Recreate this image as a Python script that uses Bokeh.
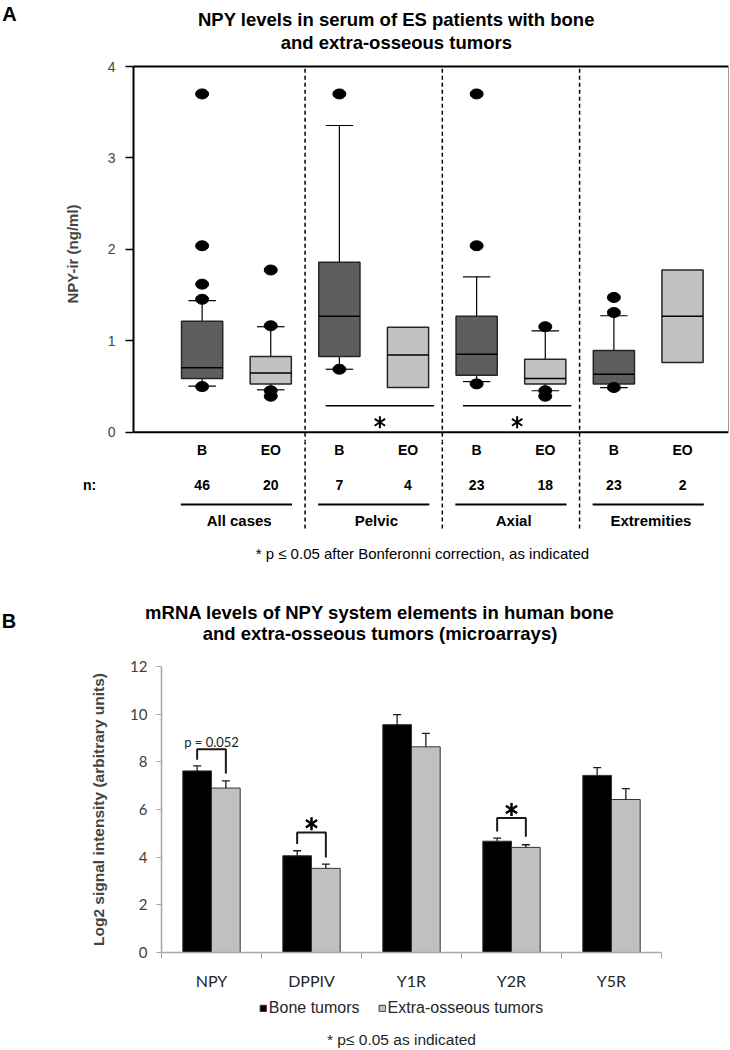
import math
from bokeh.plotting import figure
from bokeh.models import (ColumnDataSource, LinearAxis, FixedTicker, Legend, LegendItem,
                          Range1d, Span)
from bokeh.embed import file_html
from bokeh.resources import INLINE
from bokeh.core.properties import value

NaN = float("nan")

# ---------------- Panel A data (serum NPY, box plots) ----------------
panel_a_title = ["NPY levels in serum of ES patients with bone", "and extra-osseous tumors"]
group_names = ["All cases", "Pelvic", "Axial", "Extremities"]
tumor_labels = ["B", "EO", "B", "EO", "B", "EO", "B", "EO"]
n_counts = [46, 20, 7, 4, 23, 18, 23, 2]
box_q1 = [0.59, 0.53, 0.83, 0.49, 0.625, 0.53, 0.53, 0.765]
box_median = [0.705, 0.65, 1.27, 0.845, 0.855, 0.59, 0.635, 1.27]
box_q3 = [1.215, 0.83, 1.86, 1.15, 1.27, 0.80, 0.895, 1.775]
whisker_low = [0.505, 0.465, 0.69, NaN, 0.555, 0.455, 0.49, NaN]
whisker_high = [1.44, 1.155, 3.355, NaN, 1.70, 1.11, 1.275, NaN]
outlier_box = [0, 0, 0, 0, 0, 1, 1, 1, 1, 2, 2, 4, 4, 4, 5, 5, 5, 6, 6, 6]
outlier_value = [3.70, 2.04, 1.62, 1.455, 0.50, 1.775, 1.165, 0.455, 0.395,
                 3.70, 0.69, 3.70, 2.04, 0.53, 1.155, 0.455, 0.395, 1.475, 1.31, 0.49]
significant_groups_a = [1, 2]  # Pelvic, Axial
y_ticks_a = [0, 1, 2, 3, 4]
footnote_a = "* p \u2264 0.05 after Bonferonni correction, as indicated"

# ---------------- Panel B data (microarray bars) ----------------
panel_b_title = ["mRNA levels of NPY system elements in human bone",
                 "and extra-osseous tumors (microarrays)"]
genes = ["NPY", "DPPIV", "Y1R", "Y2R", "Y5R"]
bone_mean = [7.62, 4.06, 9.56, 4.67, 7.43]
bone_err = [0.21, 0.21, 0.42, 0.13, 0.33]
eo_mean = [6.90, 3.53, 8.63, 4.41, 6.42]
eo_err = [0.30, 0.18, 0.56, 0.11, 0.46]
bracket_gene = [0, 1, 3]
bracket_top = [8.53, 5.04, 5.64]
bracket_left_end = [8.09, 4.55, 5.08]
bracket_right_end = [7.51, 3.99, 4.86]
bracket_text = ["p = 0.052", "*", "*"]
y_ticks_b = [0, 2, 4, 6, 8, 10, 12]
legend_labels = ["Bone tumors", "Extra-osseous tumors"]
footnote_b = "* p\u2264 0.05 as indicated"

SANS = "Liberation Sans"
W = 730
BONE_FILL_A, EO_FILL_A = "#5e5e5e", "#c2c2c2"
BONE_FILL_B, EO_FILL_B = "black", "#c0c0c0"

# panel A main frame spans page x 133..728 ; panel B main frame spans page x 161..661
A_X0, A_X1 = 0.0, 8.67
A_PX = (728 - 133) / (A_X1 - A_X0)
A_STRIP = Range1d(A_X0 - 133 / A_PX, A_X1 + (W - 728) / A_PX)
B_X0, B_X1 = 0.0, 5.0
B_PX = (661 - 161) / (B_X1 - B_X0)
B_STRIP = Range1d(B_X0 - 161 / B_PX, B_X1 + (W - 661) / B_PX)


def strip(height, x_range, top, bottom, left_border=0):
    """A figure without axes whose frame fills it; y is measured in page pixels."""
    p = figure(width=W, height=height, x_range=x_range, y_range=Range1d(bottom, top),
               output_backend="svg", toolbar_location=None, x_axis_type=None,
               y_axis_type=None, min_border_left=left_border, min_border_right=0,
               min_border_top=0, min_border_bottom=0)
    p.outline_line_color = None
    p.grid.visible = False
    p.background_fill_color = "white"
    p.border_fill_color = "white"
    return p


def add_text(p, x, y, texts, size, bold=False, font=SANS, color="black", align="center"):
    p.text(x=x, y=y, text=texts, text_font=value(font), text_font_size=f"{size}px",
           text_font_style="bold" if bold else "normal", text_color=color,
           text_align=align, text_baseline="middle")


def add_star(p, x, y, size, width):
    for ang in (0, math.pi):
        p.scatter(x=x, y=y, marker="y", size=size, angle=ang,
                  line_color="black", line_width=width)


pos = [i + 1.0 for i in range(len(tumor_labels))]
pair_center = [(pos[2 * g] + pos[2 * g + 1]) / 2 for g in range(len(group_names))]
separators = [(pos[2 * g - 1] + pos[2 * g]) / 2 for g in range(1, len(group_names))]

# ======================= PANEL A : header (page y 0..56) =======================
a_head = strip(56, A_STRIP, 0, 56)
add_text(a_head, [3.83, 3.83], [19, 42], panel_a_title, 18.5, bold=True)
add_text(a_head, [A_STRIP.start + 9 / A_PX], [13], ["A"], 20, bold=True)

# ======================= PANEL A : box plots (page y 56..441) =======================
pA = figure(width=W, height=385, x_range=Range1d(A_X0, A_X1), y_range=Range1d(-0.1, 4),
            output_backend="svg", toolbar_location=None,
            min_border_left=133, min_border_right=2, min_border_top=10, min_border_bottom=0,
            x_axis_type=None, y_axis_type=None)
pA.outline_line_color = None
pA.background_fill_color = "white"
pA.border_fill_color = "white"

fills = [BONE_FILL_A if t == "B" else EO_FILL_A for t in tumor_labels]
srcA = ColumnDataSource(dict(
    x=pos, left=[x - 0.3 for x in pos], right=[x + 0.3 for x in pos],
    cl=[x - 0.2 for x in pos], cr=[x + 0.2 for x in pos],
    q1=box_q1, q3=box_q3, med=box_median, wlo=whisker_low, whi=whisker_high, fill=fills))

pA.segment(x0=separators, y0=[-0.2] * 3, x1=separators, y1=[4] * 3,
           line_color="black", line_width=1.5, line_dash="4 3")
pA.segment(x0="x", y0="q3", x1="x", y1="whi", source=srcA, line_color="black", line_width=1.2)
pA.segment(x0="x", y0="q1", x1="x", y1="wlo", source=srcA, line_color="black", line_width=1.2)
pA.segment(x0="cl", y0="whi", x1="cr", y1="whi", source=srcA, line_color="black", line_width=1.2)
pA.segment(x0="cl", y0="wlo", x1="cr", y1="wlo", source=srcA, line_color="black", line_width=1.2)
pA.quad(left="left", right="right", bottom="q1", top="q3", source=srcA,
        fill_color="fill", line_color="#262626", line_width=1.5)
pA.segment(x0="left", y0="med", x1="right", y1="med", source=srcA, line_color="black", line_width=1.5)

ox = [pos[i] for i in outlier_box]
pA.ellipse(x=ox, y=outlier_value, width=13, height=10, width_units="screen",
           height_units="screen", fill_color="black", line_color="black")

sig_x0, sig_x1, sig_sx = [], [], []
for g in significant_groups_a:
    b, e = pos[2 * g], pos[2 * g + 1]
    sig_x0.append(b - 0.2)
    sig_x1.append(e + 0.38)
    sig_sx.append((b + e) / 2 + 0.09)
pA.segment(x0=sig_x0, y0=[0.29] * len(sig_x0), x1=sig_x1, y1=[0.29] * len(sig_x0),
           line_color="black", line_width=1.5)
add_star(pA, sig_sx, [0.11] * len(sig_sx), 12, 2)

# x axis baseline at y = 0
pA.add_layout(Span(location=0, dimension="width", line_color="black", line_width=2))

ax_left = LinearAxis(ticker=FixedTicker(ticks=y_ticks_a), bounds=(0, 4), axis_line_width=2,
                     major_tick_out=8, major_tick_in=0, major_tick_line_width=1.5,
                     minor_tick_out=0, minor_tick_in=0,
                     major_label_text_font=SANS, major_label_text_font_size="14px",
                     major_label_standoff=10,
                     axis_label="NPY-ir (ng/ml)", axis_label_text_font=SANS,
                     axis_label_text_font_size="15px", axis_label_text_font_style="bold",
                     axis_label_standoff=24)
pA.add_layout(ax_left, "left")
ax_above = LinearAxis(ticker=FixedTicker(ticks=[]), axis_line_width=2,
                      major_tick_out=0, major_tick_in=0, minor_tick_out=0, minor_tick_in=0,
                      major_label_standoff=0)
pA.add_layout(ax_above, "above")
ax_right = LinearAxis(ticker=FixedTicker(ticks=[]), bounds=(0, 4), axis_line_width=1,
                      axis_line_color="#9a9a9a", major_tick_out=0, major_tick_in=0,
                      minor_tick_out=0, minor_tick_in=0, major_label_standoff=0)
pA.add_layout(ax_right, "right")

# ======================= PANEL A : rows below the axis (page y 441..598) ==============
a_foot = strip(157, A_STRIP, 441, 598)
a_foot.segment(x0=separators, y0=[440] * 3, x1=separators, y1=[530] * 3,
               line_color="black", line_width=1.5, line_dash="4 3")
add_text(a_foot, pos, [449] * len(pos), tumor_labels, 14, bold=True)
add_text(a_foot, [A_STRIP.start + 89 / A_PX], [484], ["n:"], 14, bold=True)
add_text(a_foot, pos, [484] * len(pos), [str(n) for n in n_counts], 14, bold=True)
a_foot.segment(x0=[c - 0.81 for c in pair_center], y0=[504] * 4,
               x1=[c + 0.81 for c in pair_center], y1=[504] * 4,
               line_color="black", line_width=1.8)
add_text(a_foot, [c + 0.04 for c in pair_center], [520] * 4, group_names, 15, bold=True)
add_text(a_foot, [4.21], [553], [footnote_a], 15)

# ======================= PANEL B : header (page y 598..655) =======================
b_head = strip(57, B_STRIP, 598, 655)
add_text(b_head, [2.185, 2.185], [611.7, 633.3], panel_b_title, 18.5, bold=True)
add_text(b_head, [B_STRIP.start + 8.5 / B_PX], [620], ["B"], 20, bold=True)

# ======================= PANEL B : bars (page y 655..992) =======================
pB = figure(width=W, height=337, x_range=Range1d(B_X0, B_X1), y_range=Range1d(0, 12),
            output_backend="svg", toolbar_location=None,
            min_border_left=161, min_border_right=69, min_border_top=11, min_border_bottom=40,
            x_axis_type=None, y_axis_type=None)
pB.outline_line_color = None
pB.background_fill_color = "white"
pB.border_fill_color = "white"

centers = [i + 0.5 for i in range(len(genes))]
bar_w = 0.287
bone_x = [c - bar_w / 2 for c in centers]
eo_x = [c + bar_w / 2 for c in centers]

pB.vbar(x=bone_x, top=bone_mean, bottom=0, width=bar_w,
        fill_color=BONE_FILL_B, line_color="#333333", line_width=1)
pB.vbar(x=eo_x, top=eo_mean, bottom=0, width=bar_w,
        fill_color=EO_FILL_B, line_color="#333333", line_width=1)

ex = bone_x + eo_x
ey0 = bone_mean + eo_mean
ey1 = [m + e for m, e in zip(bone_mean, bone_err)] + [m + e for m, e in zip(eo_mean, eo_err)]
pB.segment(x0=ex, y0=ey0, x1=ex, y1=ey1, line_color="#1a1a1a", line_width=1.3)
pB.segment(x0=[x - 0.04 for x in ex], y0=ey1, x1=[x + 0.04 for x in ex], y1=ey1,
           line_color="#1a1a1a", line_width=1.3)

bxs, bys = [], []
star_x, star_y, txt_x, txt_y, txt = [], [], [], [], []
for gi, top, le, re_, t in zip(bracket_gene, bracket_top, bracket_left_end,
                               bracket_right_end, bracket_text):
    xl, xr = bone_x[gi], eo_x[gi]
    bxs.append([xl, xl, xr, xr])
    bys.append([le, top, top, re_])
    if t == "*":
        star_x.append(centers[gi])
        star_y.append(top + 0.36)
    else:
        txt_x.append(centers[gi])
        txt_y.append(top + 0.32)
        txt.append(t)
pB.multi_line(xs=bxs, ys=bys, line_color="#1a1a1a", line_width=2)
add_star(pB, star_x, star_y, 13, 2.5)
add_text(pB, txt_x, txt_y, txt, 13, font="Lato", color="#222222")

ax_bl = LinearAxis(ticker=FixedTicker(ticks=y_ticks_b), axis_line_color="#a6a6a6",
                   axis_line_width=1.5, major_tick_line_color="#a6a6a6", major_tick_out=5,
                   major_tick_in=0, minor_tick_out=0, minor_tick_in=0,
                   major_label_text_font="Lato", major_label_text_font_size="15px",
                   major_label_text_color="#404040", major_label_standoff=9,
                   axis_label="Log2 signal intensity (arbitrary units)",
                   axis_label_text_font=SANS, axis_label_text_font_size="15.5px",
                   axis_label_text_font_style="bold", axis_label_standoff=20)
pB.add_layout(ax_bl, "left")
ax_bb = LinearAxis(ticker=FixedTicker(ticks=centers, minor_ticks=[0, 1, 2, 3, 4, 5]),
                   axis_line_color="#a6a6a6", axis_line_width=1.5,
                   major_tick_out=0, major_tick_in=0,
                   minor_tick_out=6, minor_tick_in=0, minor_tick_line_color="#a6a6a6",
                   major_label_overrides={c: g for c, g in zip(centers, genes)},
                   major_label_text_font="Lato", major_label_text_font_size="16px",
                   major_label_text_color="#262626", major_label_standoff=12)
pB.add_layout(ax_bb, "below")

# ======================= PANEL B : legend + footnote (page y 992..1048) ================
b_foot = strip(56, Range1d(B_X0 - (161 - 72) / B_PX, B_X1 + (W - 661) / B_PX),
               992, 1048, left_border=72)
# renderers used only for the legend swatches (no drawable data)
lg_bone = b_foot.vbar(x=[NaN], top=[NaN], bottom=[NaN], width=0.2,
                      fill_color=BONE_FILL_B, line_color="#333333")
lg_eo = b_foot.vbar(x=[NaN], top=[NaN], bottom=[NaN], width=0.2,
                    fill_color=EO_FILL_B, line_color="#333333")
legend = Legend(items=[LegendItem(label=legend_labels[0], renderers=[lg_bone]),
                       LegendItem(label=legend_labels[1], renderers=[lg_eo])],
                orientation="horizontal", location="top_center",
                glyph_width=8, glyph_height=8, label_standoff=2, spacing=18,
                padding=0, margin=7, border_line_color=None, background_fill_alpha=0,
                label_text_font=SANS, label_text_font_size="16px", label_text_color="#262626")
b_foot.add_layout(legend, "center")
add_text(b_foot, [2.4], [1039], [footnote_b], 15.5, color="#262626")

roots = [a_head, pA, a_foot, b_head, pB, b_foot]
open("out.html", "w").write(file_html(roots, INLINE))
